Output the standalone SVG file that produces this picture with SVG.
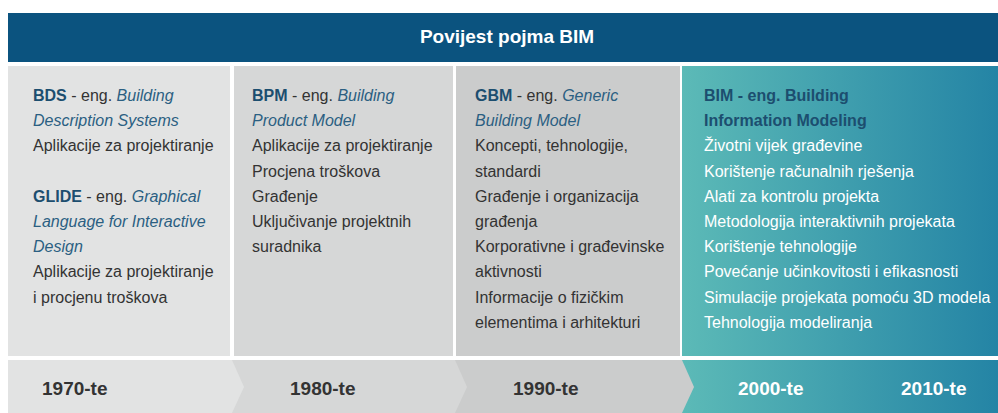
<svg xmlns="http://www.w3.org/2000/svg" width="998" height="413" viewBox="0 0 998 413">
<defs>
<linearGradient id="teal" x1="682" y1="0" x2="998" y2="0" gradientUnits="userSpaceOnUse">
<stop offset="0" stop-color="#5cbab7"/>
<stop offset="1" stop-color="#2484a5"/>
</linearGradient>
<style>
text{font-family:"Liberation Sans",Arial,sans-serif;}
.t{font-size:16px;fill:#333333;}
.w{font-size:16px;fill:#ffffff;}
.h{font-weight:bold;fill:#1c4e6f;}
.i{font-style:italic;fill:#2b5f82;}
.yr{font-size:19px;font-weight:bold;fill:#333333;}
.yw{font-size:19px;font-weight:bold;fill:#ffffff;}
.title{font-size:19px;font-weight:bold;fill:#ffffff;}
</style>
</defs>
<rect width="998" height="413" fill="#ffffff"/>
<g id="header">
<rect x="8" y="13" width="990" height="49" fill="#0b537f"/>
<text class="title" x="507" y="43" text-anchor="middle">Povijest pojma BIM</text>
</g>
<g id="panel1970">
<rect x="8" y="66" width="222" height="290" fill="#e2e3e3"/>
<text class="t" x="33" y="101"><tspan class="h">BDS</tspan> - eng. <tspan class="i">Building</tspan></text>
<text class="t i" x="33" y="126.2">Description Systems</text>
<text class="t" x="33" y="151.4">Aplikacije za projektiranje</text>
<text class="t" x="33" y="201.8"><tspan class="h">GLIDE</tspan> - eng. <tspan class="i">Graphical</tspan></text>
<text class="t i" x="33" y="227">Language for Interactive</text>
<text class="t i" x="33" y="252.2">Design</text>
<text class="t" x="33" y="277.4">Aplikacije za projektiranje</text>
<text class="t" x="33" y="302.6">i procjenu troškova</text>
</g>
<g id="panel1980">
<rect x="234" y="66" width="219" height="290" fill="#d6d7d7"/>
<text class="t" x="252" y="101"><tspan class="h">BPM</tspan> - eng. <tspan class="i">Building</tspan></text>
<text class="t i" x="252" y="126.2">Product Model</text>
<text class="t" x="252" y="151.4">Aplikacije za projektiranje</text>
<text class="t" x="252" y="176.6">Procjena troškova</text>
<text class="t" x="252" y="201.8">Građenje</text>
<text class="t" x="252" y="227">Uključivanje projektnih</text>
<text class="t" x="252" y="252.2">suradnika</text>
</g>
<g id="panel1990">
<rect x="456" y="66" width="224" height="290" fill="#cbcccc"/>
<text class="t" x="475" y="101"><tspan class="h">GBM</tspan> - eng. <tspan class="i">Generic</tspan></text>
<text class="t i" x="475" y="126.2">Building Model</text>
<text class="t" x="475" y="151.4">Koncepti, tehnologije,</text>
<text class="t" x="475" y="176.6">standardi</text>
<text class="t" x="475" y="201.8">Građenje i organizacija</text>
<text class="t" x="475" y="227">građenja</text>
<text class="t" x="475" y="252.2">Korporativne i građevinske</text>
<text class="t" x="475" y="277.4">aktivnosti</text>
<text class="t" x="475" y="302.6">Informacije o fizičkim</text>
<text class="t" x="475" y="327.8">elementima i arhitekturi</text>
</g>
<g id="panel2000">
<rect x="682" y="66" width="316" height="290" fill="url(#teal)"/>
<text class="w h" x="704" y="101">BIM - eng. Building</text>
<text class="w h" x="704" y="126.2">Information Modeling</text>
<text class="w" x="704" y="151.4">Životni vijek građevine</text>
<text class="w" x="704" y="176.6">Korištenje računalnih rješenja</text>
<text class="w" x="704" y="201.8">Alati za kontrolu projekta</text>
<text class="w" x="704" y="227">Metodologija interaktivnih projekata</text>
<text class="w" x="704" y="252.2">Korištenje tehnologije</text>
<text class="w" x="704" y="277.4">Povećanje učinkovitosti i efikasnosti</text>
<text class="w" x="704" y="302.6">Simulacije projekata pomoću 3D modela</text>
<text class="w" x="704" y="327.8">Tehnologija modeliranja</text>
</g>
<g id="timeline">
<rect x="682" y="360" width="316" height="53" fill="url(#teal)"/>
<polygon points="455,360 682,360 694,387 682,413 455,413" fill="#cbcccc"/>
<polygon points="232,360 455,360 467,387 455,413 232,413" fill="#d6d7d7"/>
<polygon points="8,360 232,360 244,387 232,413 8,413" fill="#e2e3e3"/>
<text class="yr" x="42" y="395">1970-te</text>
<text class="yr" x="290" y="395">1980-te</text>
<text class="yr" x="513" y="395">1990-te</text>
<text class="yw" x="738" y="395">2000-te</text>
<text class="yw" x="901" y="395">2010-te</text>
</g>
</svg>
